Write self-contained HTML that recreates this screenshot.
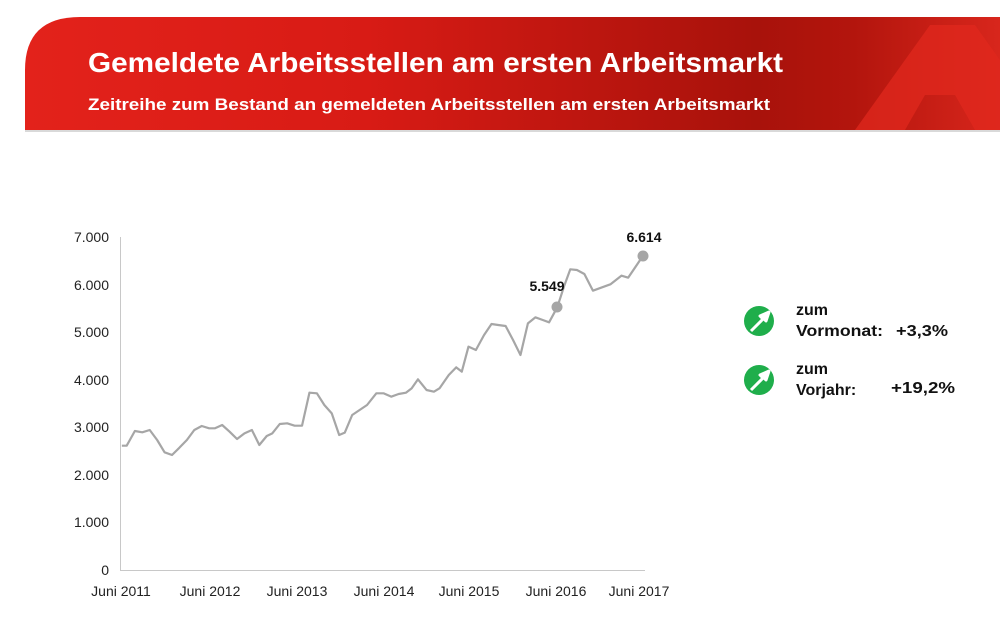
<!DOCTYPE html>
<html><head><meta charset="utf-8"><style>
body{margin:0;width:1000px;height:634px;background:#fff;overflow:hidden;font-family:"Liberation Sans",Arial,sans-serif}
</style></head><body>
<svg width="1000" height="634" viewBox="0 0 1000 634" xmlns="http://www.w3.org/2000/svg" font-family="Liberation Sans, Arial, sans-serif">
<defs>
<linearGradient id="g" x1="0" x2="1" y1="0" y2="0">
<stop offset="0" stop-color="#e3221b"/><stop offset="0.35" stop-color="#d81b15"/><stop offset="0.75" stop-color="#a8120b"/><stop offset="0.85" stop-color="#b3150d"/><stop offset="1" stop-color="#d8261c"/>
</linearGradient>
</defs>
<path d="M25 130 V70 Q25 17 80 17 H1000 V130 Z" fill="url(#g)"/>
<path d="M855 130 L930 25 L975 25 L1000 60 L1000 130 L975 130 L955 95 L925 95 L905 130 Z" fill="#e0281e" opacity="0.75"/>
<rect x="25" y="130" width="975" height="2" fill="#d9d9d9"/>
<text x="88" y="72" fill="#fff" font-size="28" font-weight="bold" textLength="695" lengthAdjust="spacingAndGlyphs">Gemeldete Arbeitsstellen am ersten Arbeitsmarkt</text>
<text x="88" y="110" fill="#fff" font-size="17" font-weight="bold" textLength="682" lengthAdjust="spacingAndGlyphs">Zeitreihe zum Bestand an gemeldeten Arbeitsstellen am ersten Arbeitsmarkt</text>

<g stroke="#c8c8c8" stroke-width="1">
<line x1="120.5" y1="237" x2="120.5" y2="570"/>
<line x1="120" y1="570.5" x2="645" y2="570.5"/>
</g>
<g font-size="14" fill="#222" text-anchor="end">
<text x="109" y="242">7.000</text><text x="109" y="290">6.000</text><text x="109" y="337">5.000</text>
<text x="109" y="385">4.000</text><text x="109" y="432">3.000</text><text x="109" y="480">2.000</text>
<text x="109" y="527">1.000</text><text x="109" y="575">0</text>
</g>
<g font-size="14" fill="#222" text-anchor="middle">
<text x="121" y="596">Juni 2011</text><text x="210" y="596">Juni 2012</text><text x="297" y="596">Juni 2013</text>
<text x="384" y="596">Juni 2014</text><text x="469" y="596">Juni 2015</text><text x="556" y="596">Juni 2016</text><text x="639" y="596">Juni 2017</text>
</g>
<g transform="translate(97.71 220) scale(0.3715 0.33333)">
<polyline vector-effect="non-scaling-stroke" fill="none" stroke="#a6a6a6" stroke-width="2.2" stroke-linejoin="round" points="65,677 78,677 100,633 120,637 140,630 160,660 180,697 200,705 220,683 240,660 260,630 280,618 300,625 315,625 335,615 355,635 375,657 395,640 415,630 435,675 455,648 470,640 490,612 510,610 530,617 550,617 570,518 590,520 610,555 630,580 650,645 665,638 685,585 705,570 725,555 750,520 770,520 790,530 810,522 830,518 845,505 862,478 885,510 905,515 920,505 945,465 965,442 980,455 998,380 1018,390 1040,345 1060,312 1078,315 1098,318 1118,360 1138,405 1158,310 1178,292 1198,300 1215,307 1237,262 1255,200 1272,148 1290,150 1310,162 1333,212 1355,203 1380,193 1410,167 1428,173 1468,107"/>
</g>
<circle cx="557" cy="307" r="5.5" fill="#a6a6a6"/>
<circle cx="643" cy="256" r="5.5" fill="#a6a6a6"/>
<text x="547" y="291" font-size="14" font-weight="bold" text-anchor="middle" fill="#111">5.549</text>
<text x="644" y="242" font-size="14" font-weight="bold" text-anchor="middle" fill="#111">6.614</text>

<g>
<circle cx="759" cy="321" r="15" fill="#1fae4b"/>
<path d="M751 331 L763 319 L760 316 L769 312 L766 321 L763 318" fill="#fff" stroke="#fff" stroke-width="3" stroke-linejoin="round"/>
<circle cx="759" cy="380" r="15" fill="#1fae4b"/>
<path d="M751 390 L763 378 L760 375 L769 371 L766 380 L763 377" fill="#fff" stroke="#fff" stroke-width="3" stroke-linejoin="round"/>
</g>
<g font-size="16" font-weight="bold" fill="#111">
<text x="796" y="315">zum</text><text x="796" y="336" textLength="87" lengthAdjust="spacingAndGlyphs">Vormonat:</text><text x="896" y="336" textLength="52" lengthAdjust="spacingAndGlyphs">+3,3%</text>
<text x="796" y="374">zum</text><text x="796" y="395">Vorjahr:</text><text x="891" y="393" textLength="64" lengthAdjust="spacingAndGlyphs">+19,2%</text>
</g>
</svg>
</body></html>
